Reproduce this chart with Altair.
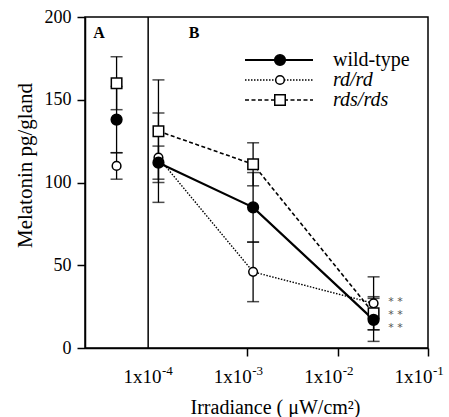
import math
import altair as alt
import pandas as pd

SERIF = "Liberation Serif"

series_names = ["wild-type", "rd/rd", "rds/rds"]

# Panel A: one measurement per genotype (mean, s.e.m.)
a_mean = [138, 110, 160]
a_sem = [20, 8, 16]

# Panel B: melatonin vs irradiance
irradiance = [1.04e-4, 1.16e-3, 2.5e-2]
b_mean = {
    "wild-type": [112, 85, 17],
    "rd/rd": [115, 46, 27],
    "rds/rds": [131, 111, 21],
}
b_sem = {
    "wild-type": [10, 21, 13],
    "rd/rd": [27, 18, 16],
    "rds/rds": [31, 13, 10],
}

x_ticks = [1e-4, 1e-3, 1e-2, 1e-1]
tick_exponents = ["-4", "-3", "-2", "-1"]
y_ticks = [0, 50, 100, 150, 200]

# x range of the frame, and where panel A ends
X_MIN, X_MAX = 1.6e-5, 1e-1
PANEL_SPLIT = 8e-5
A_POS = math.sqrt(X_MIN * PANEL_SPLIT)

W, H = 343, 331

rows = []
for i, s in enumerate(series_names):
    rows.append(dict(series=s, panel="A", x=A_POS, y=a_mean[i],
                     lo=a_mean[i] - a_sem[i], hi=a_mean[i] + a_sem[i]))
    for xv, m, e in zip(irradiance, b_mean[s], b_sem[s]):
        rows.append(dict(series=s, panel="B", x=xv, y=m, lo=m - e, hi=m + e))
df = pd.DataFrame(rows)

styles = {
    "wild-type": dict(dash=None, width=2.2, shape="circle", fill="black", size=115, italic=False),
    "rd/rd": dict(dash=[1.5, 1.5], width=1.4, shape="circle", fill="white", size=75, italic=True),
    "rds/rds": dict(dash=[4, 2.5], width=1.6, shape="square", fill="white", size=110, italic=True),
}

x_axis = alt.Axis(
    values=x_ticks, labelExpr="'1x10'", labelOffset=-15, labelFlush=False, labelOverlap=False,
    labelFont=SERIF, labelFontSize=19, labelColor="black", labelPadding=11,
    tickSize=8, tickWidth=1.5,
    tickColor={"condition": {"test": "datum.value < 0.0005", "value": "transparent"}, "value": "black"},
    domainColor="black", domainWidth=1.5, grid=False,
    title="Irradiance ( μW/cm²)", titleFont=SERIF, titleFontSize=20, titleFontWeight="normal",
    titleColor="black", titleX=190, titleY=65, titleAlign="center", titleBaseline="alphabetic",
)
y_axis = alt.Axis(
    values=y_ticks, tickSize=8, tickWidth=1.5, tickColor="black",
    domainColor="black", domainWidth=1.5, grid=False,
    labelFont=SERIF, labelFontSize=18, labelColor="black", labelPadding=6,
    title="Melatonin pg/gland", titleFont=SERIF, titleFontSize=21, titleFontWeight="normal",
    titleColor="black", titleX=-54, titleY=148, titleAngle=270, titleAlign="center",
    titleBaseline="alphabetic",
)


def X(field="x"):
    return alt.X(f"{field}:Q", scale=alt.Scale(type="log", domain=[X_MIN, X_MAX]), axis=x_axis)


def Y(field="y"):
    return alt.Y(f"{field}:Q", scale=alt.Scale(domain=[0, 200], nice=False), axis=y_axis)


one = pd.DataFrame({"k": [0]})
layers = []

# divider between panel A and B
layers.append(
    alt.Chart(pd.DataFrame({"x": [PANEL_SPLIT]})).mark_rule(color="black", strokeWidth=1.5)
    .encode(x=X(), y=alt.value(0), y2=alt.value(H))
)

# connecting lines (panel B only)
for s in series_names:
    st = styles[s]
    kw = dict(color="black", strokeWidth=st["width"])
    if st["dash"]:
        kw["strokeDash"] = st["dash"]
    layers.append(
        alt.Chart(df[(df.series == s) & (df.panel == "B")]).mark_line(**kw)
        .encode(x=X(), y=Y())
    )

# error bars with caps
for s in series_names:
    d = df[df.series == s]
    layers.append(alt.Chart(d).mark_rule(color="black", strokeWidth=1.3)
                  .encode(x=X(), y=Y("lo"), y2="hi:Q"))
    for f in ["lo", "hi"]:
        layers.append(alt.Chart(d).mark_tick(orient="horizontal", color="black",
                                             size=12, thickness=1.5)
                      .encode(x=X(), y=Y(f)))

# markers
for s in ["rd/rd", "rds/rds", "wild-type"]:
    st = styles[s]
    layers.append(
        alt.Chart(df[df.series == s]).mark_point(
            shape=st["shape"], filled=True, fill=st["fill"], stroke="black",
            strokeWidth=1.5, size=st["size"], opacity=1)
        .encode(x=X(), y=Y())
    )

# significance marks beside the brightest irradiance, one row per genotype
last = df[(df.series == "rds/rds") & (df.panel == "B")].tail(1)
for off in (-13, 0, 13):
    layers.append(
        alt.Chart(last).mark_text(text="* *", font="DejaVu Sans", fontSize=11, color="#555555",
                                  align="center", baseline="middle", dx=22, dy=off + 2)
        .encode(x=X(), y=Y())
    )

# superscript exponents of the x tick labels
layers.append(
    alt.Chart(pd.DataFrame({"x": x_ticks, "t": tick_exponents})).mark_text(
        align="left", baseline="alphabetic", dx=5, font=SERIF, fontSize=13, color="black")
    .encode(x=X(), y=alt.value(358), text="t:N")
)

# panel letters
for letter, px in [("A", 14), ("B", 109)]:
    layers.append(
        alt.Chart(one).mark_text(text=letter, font=SERIF, fontSize=16, fontWeight="bold",
                                 color="black", align="center", baseline="middle")
        .encode(x=alt.value(px), y=alt.value(16))
    )

# legend
for i, s in enumerate(series_names):
    st = styles[s]
    ry = 43 + i * 20
    kw = dict(color="black", strokeWidth=st["width"])
    if st["dash"]:
        kw["strokeDash"] = st["dash"]
    layers.append(alt.Chart(one).mark_rule(**kw)
                  .encode(x=alt.value(160), x2=alt.value(228), y=alt.value(ry)))
    layers.append(alt.Chart(one).mark_point(
        shape=st["shape"], filled=True, fill=st["fill"], stroke="black",
        strokeWidth=1.5, size=st["size"], opacity=1)
        .encode(x=alt.value(195), y=alt.value(ry)))
    layers.append(alt.Chart(one).mark_text(
        text=s, font=SERIF, fontSize=20, fontStyle="italic" if st["italic"] else "normal",
        color="black", align="left", baseline="middle")
        .encode(x=alt.value(248), y=alt.value(ry)))

chart = (
    alt.layer(*layers)
    .properties(width=W, height=H, autosize=alt.AutoSizeParams(type="none"),
                padding={"left": 85, "top": 17, "right": 21, "bottom": 69},
                background="white")
    .configure_view(stroke="black", strokeWidth=1.5)
)

chart.save("out.html", embed_options={"renderer": "svg", "actions": False})
